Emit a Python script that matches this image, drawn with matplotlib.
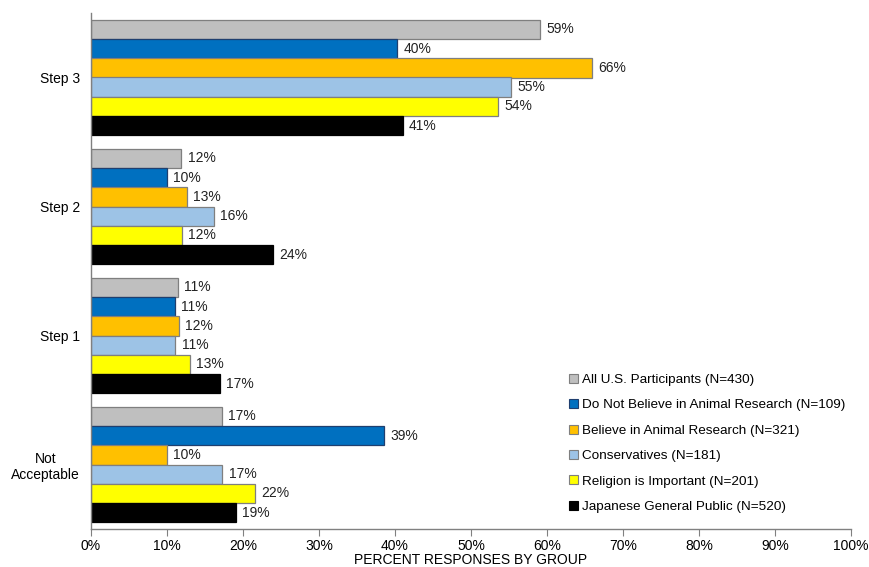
import matplotlib
matplotlib.use("Agg")
import matplotlib.pyplot as plt
import numpy as np
from matplotlib.patches import Patch

plt.rcParams['font.family'] = ['Liberation Sans', 'DejaVu Sans']

categories = ["Not\nAcceptable", "Step 1", "Step 2", "Step 3"]
series_names = [
    "All U.S. Participants (N=430)",
    "Do Not Believe in Animal Research (N=109)",
    "Believe in Animal Research (N=321)",
    "Conservatives (N=181)",
    "Religion is Important (N=201)",
    "Japanese General Public (N=520)",
]
# values per series, in category order (Not Acceptable, Step 1, Step 2, Step 3)
all_us = [17.2, 11.4, 11.9, 59.1]
no_believe = [38.6, 11.05, 10.0, 40.3]
believe = [10.0, 11.6, 12.6, 65.9]
conservatives = [17.3, 11.1, 16.2, 55.3]
religion = [21.6, 13.0, 12.0, 53.6]
japanese = [19.1, 17.0, 24.0, 41.0]
series_values = [all_us, no_believe, believe, conservatives, religion, japanese]

colors = ["#BFBFBF", "#0070C0", "#FFC000", "#9DC3E6", "#FFFF00", "#000000"]
edges = ["#7F7F7F", "#1F3F6F", "#7F7F7F", "#7F7F7F", "#7F7F7F", "#000000"]
xticks = [0, 10, 20, 30, 40, 50, 60, 70, 80, 90, 100]

fig = plt.figure(figsize=(8.69, 5.67), dpi=100)
ax = fig.add_axes([91/869, 1-529/567, (851-91)/869, (529-13)/567])

n = len(series_names)
group_h = 0.895
bar_h = group_h / n
y = np.arange(len(categories))
for i, (name, vals) in enumerate(zip(series_names, series_values)):
    offs = group_h/2 - bar_h/2 - i*bar_h
    bars = ax.barh(y + offs, vals, height=bar_h, color=colors[i],
                   edgecolor=edges[i], linewidth=0.9, label=name)
    for b, v in zip(bars, vals):
        ax.annotate(f"{round(v):d}%", (b.get_width(), b.get_y()+b.get_height()/2),
                    xytext=(4.5, 0), textcoords="offset points",
                    ha="left", va="center", fontsize=10, color="#222222")

ax.set_xlim(0, 100)
ax.set_ylim(-0.5, len(categories)-0.5)
ax.set_xticks(xticks)
ax.set_xticklabels([f"{t}%" for t in xticks], fontsize=10)
ax.set_yticks(y)
ax.set_yticklabels(categories, fontsize=10)
for lab in ax.get_yticklabels():
    lab.set_multialignment('center')
ax.tick_params(axis='y', length=0, pad=8)
ax.tick_params(axis='x', length=5, color="#808080", direction='out', pad=2)
for s in ["top", "right"]:
    ax.spines[s].set_visible(False)
for s in ["left", "bottom"]:
    ax.spines[s].set_color("#808080")
    ax.spines[s].set_linewidth(1.0)
ax.set_xlabel("PERCENT RESPONSES BY GROUP", fontsize=10, labelpad=0)

handles = [Patch(facecolor=c, edgecolor=e, linewidth=0.8) for c, e in zip(colors, edges)]
leg = ax.legend(handles, series_names, loc="lower left",
                bbox_to_anchor=(569/869, 1-513/567), bbox_transform=fig.transFigure,
                frameon=False, fontsize=9.7, handlelength=0.67, handleheight=0.67,
                handletextpad=0.3, labelspacing=0.97, borderaxespad=0, borderpad=0)

fig.savefig("out.png", dpi=100)
